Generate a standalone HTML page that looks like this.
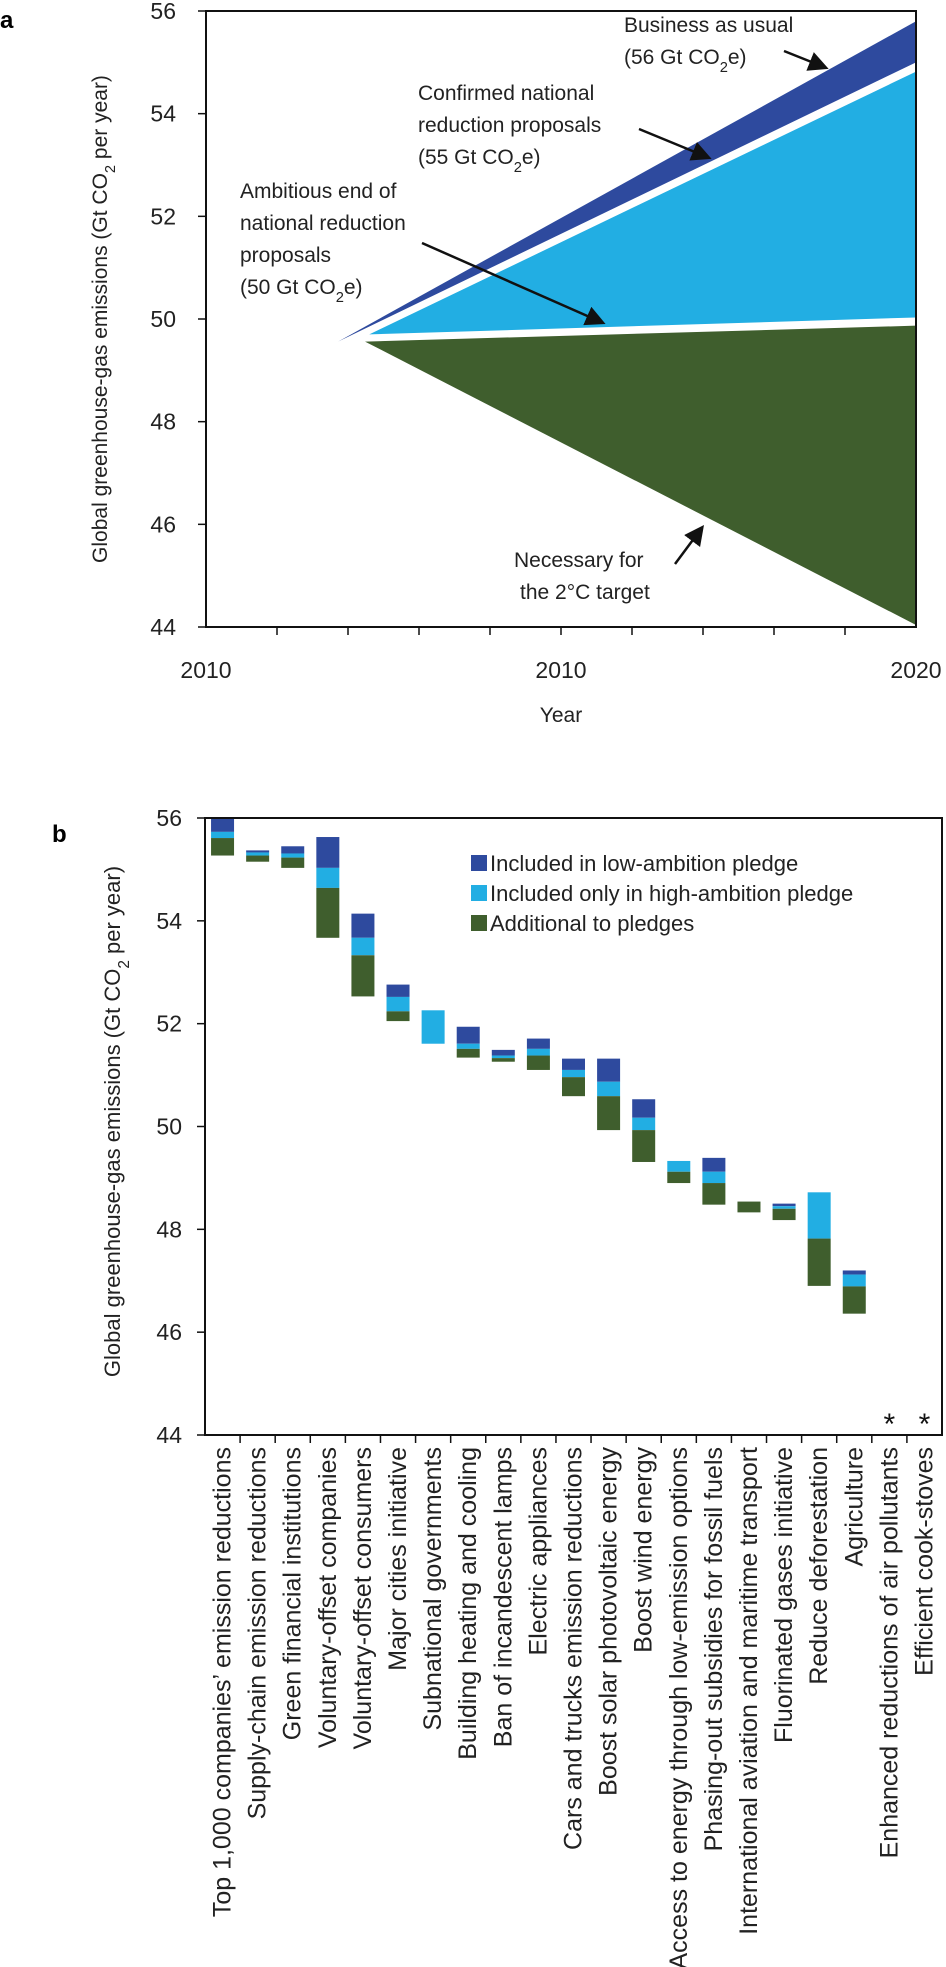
<!DOCTYPE html>
<html><head><meta charset="utf-8"><style>
html,body{margin:0;padding:0;background:#fff;}
svg{display:block;font-family:"Liberation Sans",sans-serif;}
</style></head><body>
<svg id="root" width="946" height="1967" viewBox="0 0 946 1967">
<text x="0" y="28" font-size="24" font-weight="bold">a</text>
<g id="chartA"></g>
<text x="52" y="842" font-size="24" font-weight="bold">b</text>
<g id="chartB"></g>
</svg>
<script>
// ---------- Chart A data ----------
const aYTicks = [44,46,48,50,52,54,56];
const aXTickLabels = ["2010","2010","2020"];
const aXTickLabelPos = [0,5,10];
// series polygons: [xStart, yStartTop, yStartBottom, xEnd, yEndTop, yEndBottom]
const aBusiness = [1.86, 49.56, 49.56, 10, 55.8, 55.0];
const aConfirmed = [2.30, 49.7, 49.7, 10, 54.82, 50.03];
const aNecessary = [2.24, 49.56, 49.56, 10, 49.87, 44.04];

// ---------- Chart B data ----------
const bCategories = ["Top 1,000 companies\u2019 emission reductions","Supply-chain emission reductions","Green financial institutions","Voluntary-offset companies","Voluntary-offset consumers","Major cities initiative","Subnational governments","Building heating and cooling","Ban of incandescent lamps","Electric appliances","Cars and trucks emission reductions","Boost solar photovoltaic energy","Boost wind energy","Access to energy through low-emission options","Phasing-out subsidies for fossil fuels","International aviation and maritime transport","Fluorinated gases initiative","Reduce deforestation","Agriculture","Enhanced reductions of air pollutants","Efficient cook-stoves"];
const bTop     = [56.0,55.37,55.45,55.63,54.14,52.76,52.26,51.94,51.49,51.71,51.32,51.32,50.53,49.33,49.39,48.54,48.50,48.72,47.20,null,null];
const bLowEnd  = [55.73,55.33,55.31,55.03,53.67,52.52,52.26,51.61,51.38,51.51,51.10,50.87,50.17,49.33,49.12,48.54,48.45,48.72,47.12,null,null];
const bHighEnd = [55.61,55.27,55.23,54.64,53.33,52.24,51.61,51.51,51.33,51.38,50.96,50.59,49.93,49.12,48.90,48.54,48.40,47.82,46.89,null,null];
const bBottom  = [55.27,55.15,55.03,53.67,52.53,52.05,51.61,51.34,51.26,51.10,50.59,49.93,49.31,48.90,48.48,48.33,48.18,46.90,46.36,null,null];
const bYTicks = [44,46,48,50,52,54,56];
const bLegend = ["Included in low-ambition pledge","Included only in high-ambition pledge","Additional to pledges"];

const NS="http://www.w3.org/2000/svg";
const C_DARK="#2e4a9e", C_LIGHT="#22aee3", C_GREEN="#3f5e2d";
function mk(parent,tag,attrs){const e=document.createElementNS(NS,tag);for(const k in attrs)e.setAttribute(k,attrs[k]);parent.appendChild(e);return e;}
function co2(t,pre,post){t.appendChild(document.createTextNode(pre+"CO"));const s=document.createElementNS(NS,"tspan");s.setAttribute("baseline-shift","sub");s.setAttribute("font-size","0.7em");s.textContent="2";t.appendChild(s);const r=document.createElementNS(NS,"tspan");r.textContent=post;t.appendChild(r);}

// ===== Chart A =====
const A=document.getElementById("chartA");
const aL=206,aR=916,aT=11,aB=627;
const ax=v=>aL+(aR-aL)*v/10;
const ay=v=>aB-(aB-aT)*(v-44)/12;
function poly(d,color,name){
  const p=mk(A,"polygon",{points:`${ax(d[0])},${ay(d[1])} ${ax(d[3])},${ay(d[4])} ${ax(d[3])},${ay(d[5])} ${ax(d[0])},${ay(d[2])}`,fill:color});
  
  
}
poly(aBusiness,C_DARK,"business-as-usual-area");
poly(aConfirmed,C_LIGHT,"confirmed-proposals-area");
poly(aNecessary,C_GREEN,"necessary-2c-area");
{const f=mk(A,"path",{d:`M${aL},${aT}H${aR}V${aB}H${aL}Z`,fill:"none",stroke:"#111","stroke-width":2});

}
aYTicks.forEach(v=>{
  const l=mk(A,"line",{x1:aL-8,x2:aL,y1:ay(v),y2:ay(v),stroke:"#111","stroke-width":1.5});
  
  
  const t=mk(A,"text",{x:176,y:ay(v)+8,"font-size":23,"text-anchor":"end",fill:"#222"});t.textContent=v;
  
  
});
for(let i=1;i<10;i++){const l=mk(A,"line",{x1:ax(i),x2:ax(i),y1:aB,y2:aB+8,stroke:"#111","stroke-width":1.5});
  
  }
aXTickLabels.forEach((s,i)=>{const t=mk(A,"text",{x:ax(aXTickLabelPos[i]),y:678,"font-size":23,"text-anchor":"middle",fill:"#222"});t.textContent=s;
  
  });
{const t=mk(A,"text",{x:ax(5),y:722,"font-size":21,"text-anchor":"middle",fill:"#222"});t.textContent="Year";

}
{const t=mk(A,"text",{x:0,y:0,"font-size":21,"text-anchor":"middle",fill:"#222",transform:`translate(107,${(aT+aB)/2}) rotate(-90)`});co2(t,"Global greenhouse-gas emissions (Gt "," per year)");

}
mk(A,"defs",{}).innerHTML='<marker id="ah" markerWidth="8" markerHeight="8" refX="6" refY="4" orient="auto" markerUnits="strokeWidth"><path d="M0,0L8,4L0,8Z" fill="#111"/></marker>';
function ann(lines,x,y0,name){lines.forEach((s,i)=>{const t=mk(A,"text",{x:x,y:y0+i*32,"font-size":21,fill:"#222"});
  if(Array.isArray(s))co2(t,s[0],s[1]);else t.textContent=s;
  
  });}
function arrow(x1,y1,x2,y2,name){const l=mk(A,"line",{x1,y1,x2,y2,stroke:"#111","stroke-width":2.5,"marker-end":"url(#ah)"});
  
  }
ann(["Business as usual",["(56 Gt ","e)"]],624,32,"business-as-usual-label");
arrow(784,51,824,67,"business-as-usual-arrow");
ann(["Confirmed national","reduction proposals",["(55 Gt ","e)"]],418,100,"confirmed-proposals-label");
arrow(639,129,707,157,"confirmed-proposals-arrow");
ann(["Ambitious end of","national reduction","proposals",["(50 Gt ","e)"]],240,198,"ambitious-proposals-label");
arrow(422,243,601,322,"ambitious-proposals-arrow");
ann(["Necessary for"],514,567,"necessary-label");
ann(["the 2\u00B0C target"],520,599,"necessary-label-2");
arrow(675,564,701,529,"necessary-arrow");

// ===== Chart B =====
const B=document.getElementById("chartB");
const bL=205,bR=942,bT=818,bBt=1435;
const slot=(bR-bL)/bCategories.length;
const bx=i=>bL+slot*(i+0.5);
const by=v=>bBt-(bBt-bT)*(v-44)/12;
const bw=23;
function seg(i,v1,v2,color,name){if(v1==null||v2==null||v1<=v2)return;
  const r=mk(B,"rect",{x:bx(i)-bw/2,y:by(v1),width:bw,height:by(v2)-by(v1),fill:color});
  
  }
bCategories.forEach((c,i)=>{
  seg(i,bTop[i],bLowEnd[i],C_DARK,"bar-low-ambition");
  seg(i,bLowEnd[i],bHighEnd[i],C_LIGHT,"bar-high-ambition");
  seg(i,bHighEnd[i],bBottom[i],C_GREEN,"bar-additional");
  if(bTop[i]==null){const t=mk(B,"text",{x:bx(i),y:1434,"font-size":30,"text-anchor":"middle",fill:"#111"});t.textContent="*";
    
    }
  const t=mk(B,"text",{x:0,y:0,"font-size":25,"text-anchor":"end",fill:"#222",transform:`translate(${bx(i)+8},1447) rotate(-90)`});t.textContent=c;
  
  
  if(i>0){const l=mk(B,"line",{x1:bL+slot*i,x2:bL+slot*i,y1:bBt,y2:bBt+8,stroke:"#111","stroke-width":1.5});
    
    }
});
{const f=mk(B,"path",{d:`M${bL},${bT}H${bR}V${bBt}H${bL}Z`,fill:"none",stroke:"#111","stroke-width":2});

}
bYTicks.forEach(v=>{
  const l=mk(B,"line",{x1:bL-8,x2:bL,y1:by(v),y2:by(v),stroke:"#111","stroke-width":1.5});
  
  
  const t=mk(B,"text",{x:182,y:by(v)+8,"font-size":23,"text-anchor":"end",fill:"#222"});t.textContent=v;
  
  
});
{const t=mk(B,"text",{x:0,y:0,"font-size":22,"text-anchor":"middle",fill:"#222",transform:`translate(120,${(bT+bBt)/2-5}) rotate(-90)`});co2(t,"Global greenhouse-gas emissions (Gt "," per year)");

}
const legCols=[C_DARK,C_LIGHT,C_GREEN];
bLegend.forEach((s,i)=>{
  const y=863+i*30;
  const r=mk(B,"rect",{x:471,y:y-8,width:16,height:16,fill:legCols[i]});
  
  
  const t=mk(B,"text",{x:490,y:y+8,"font-size":22,fill:"#222"});t.textContent=s;
  
  
});
</script>
</body></html>
